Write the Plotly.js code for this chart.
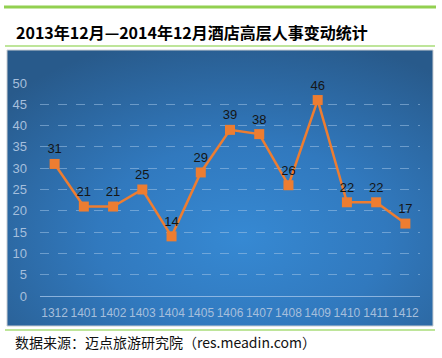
<!DOCTYPE html>
<html>
<head>
<meta charset="utf-8">
<script src="https://cdn.plot.ly/plotly-3.0.1.min.js"></script>
<style>
html,body{margin:0;padding:0;background:#fff;}
#chart{width:442px;height:358px;}
</style>
</head>
<body>
<div id="chart"></div>
<script>
const months = ["1312","1401","1402","1403","1404","1405","1406","1407","1408","1409","1410","1411","1412"];
const changes = [31,21,21,25,14,29,39,38,26,46,22,22,17];
const yTicks = [0,5,10,15,20,25,30,35,40,45,50];
const titleText = "2013年12月—2014年12月酒店高层人事变动统计";
const sourceText = "数据来源：迈点旅游研究院（res.meadin.com）";

const W = 442, H = 358, L = 40, R = 420, T = 83, B = 296;
const px = x => (x - L) / (R - L);
const py = y => (B - y) / (B - T);

const svg = '<svg xmlns="http://www.w3.org/2000/svg" width="426" height="276" viewBox="0 0 426 276" preserveAspectRatio="none">' +
  '<defs><radialGradient id="g" cx="0.55" cy="0.68" r="0.75" gradientUnits="objectBoundingBox">' +
  '<stop offset="0" stop-color="#3689d3"/><stop offset="0.45" stop-color="#3179be"/>' +
  '<stop offset="1" stop-color="#285a8b"/></radialGradient></defs>' +
  '<rect width="426" height="276" fill="url(#g)"/></svg>';
const bgSrc = 'data:image/svg+xml;charset=utf-8,' + encodeURIComponent(svg);

const trace = {
  type: 'scatter',
  mode: 'lines+markers+text',
  x: months,
  y: changes,
  text: changes.map(String),
  textposition: 'top center',
  textfont: {family: 'Liberation Sans, Arial, sans-serif', size: 13, color: '#151515'},
  line: {color: '#ed7d31', width: 2.5},
  marker: {symbol: 'square', size: 10, color: '#ed7d31'},
  cliponaxis: false,
  hoverinfo: 'none'
};

const layout = {
  width: W, height: H,
  margin: {l: L, r: W - R, t: T, b: H - B, pad: 0},
  paper_bgcolor: '#ffffff',
  plot_bgcolor: 'rgba(0,0,0,0)',
  showlegend: false,
  xaxis: {
    type: 'category',
    range: [-0.5, months.length - 0.5],
    showgrid: false, zeroline: false, showline: false,
    ticks: '',
    ticklabelstandoff: 8,
    tickfont: {family: 'Liberation Sans, Arial, sans-serif', size: 12, color: '#a6bfdc'},
    fixedrange: true
  },
  yaxis: {
    range: [0, 50],
    tickvals: yTicks,
    ticktext: yTicks.map(String),
    showgrid: true,
    gridcolor: 'rgba(160,195,230,0.55)',
    griddash: 'dash',
    gridwidth: 1,
    zeroline: true,
    zerolinecolor: 'rgba(170,200,235,0.75)',
    zerolinewidth: 1,
    showline: false,
    ticks: '',
    ticklabelstandoff: 12,
    tickfont: {family: 'Liberation Sans, Arial, sans-serif', size: 13, color: '#a6bfdc'},
    fixedrange: true
  },
  images: [{
    source: bgSrc,
    xref: 'paper', yref: 'paper',
    x: px(7), y: py(50),
    sizex: (433 - 7) / (R - L), sizey: (326 - 50) / (B - T),
    xanchor: 'left', yanchor: 'top',
    sizing: 'stretch', layer: 'below'
  }],
  shapes: [
    {type: 'rect', xref: 'paper', yref: 'paper', x0: px(7), x1: px(433), y0: py(50), y1: py(326),
     line: {color: '#c9cdd2', width: 1}, layer: 'below'},
    {type: 'line', xref: 'paper', yref: 'paper', x0: px(4), x1: px(436), y0: py(7), y1: py(7),
     line: {color: '#92d050', width: 3}},
    {type: 'line', xref: 'paper', yref: 'paper', x0: px(5), x1: px(435), y0: py(46), y1: py(46),
     line: {color: '#a8dc78', width: 1.5}},
    {type: 'line', xref: 'paper', yref: 'paper', x0: px(5), x1: px(435), y0: py(330), y1: py(330),
     line: {color: '#a8dc78', width: 1.5}}
  ],
  annotations: [
    {text: '<b>' + titleText + '</b>', xref: 'paper', yref: 'paper',
     x: px(14), y: py(32), xanchor: 'left', yanchor: 'middle', showarrow: false,
     font: {family: 'Noto Sans CJK SC, sans-serif', size: 16, color: '#000'}},
    {text: sourceText, xref: 'paper', yref: 'paper',
     x: px(13), y: py(342), xanchor: 'left', yanchor: 'middle', showarrow: false,
     font: {family: 'Noto Sans CJK SC, sans-serif', size: 14, color: '#111'}}
  ]
};

Plotly.newPlot('chart', [trace], layout, {displayModeBar: false, staticPlot: true});
</script>
</body>
</html>
